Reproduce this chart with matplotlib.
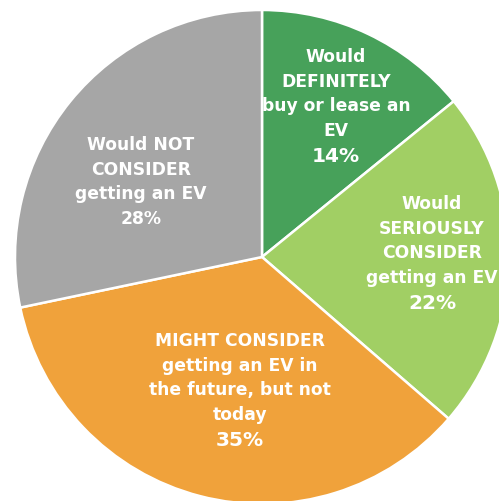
import matplotlib.pyplot as plt

# share of respondents per answer (as printed on the chart)
shares = [14, 22, 35, 28]
colors = ['#47A15A', '#A1CF64', '#F0A23B', '#A6A6A6']
label_lines = [
    ['Would', 'DEFINITELY', 'buy or lease an', 'EV'],
    ['Would', 'SERIOUSLY', 'CONSIDER', 'getting an EV'],
    ['MIGHT CONSIDER', 'getting an EV in', 'the future, but not', 'today'],
    ['Would NOT', 'CONSIDER', 'getting an EV'],
]
pct_labels = ['14%', '22%', '35%', '28%']

W, H = 499, 501
CX, CY, R = 262, 257, 247   # pie centre and radius in pixels


def px(x, y):
    # pixel (from top-left) -> data coords with unit radius
    return (x - CX) / R, (CY - y) / R


fig = plt.figure(figsize=(W / 100, H / 100), dpi=100)
ax = fig.add_axes([0, 0, 1, 1])
ax.pie(shares, colors=colors, startangle=90, counterclock=False,
       wedgeprops=dict(edgecolor='white', linewidth=1.8))
ax.set_xlim(-CX / R, (W - CX) / R)
ax.set_ylim((CY - H) / R, CY / R)
ax.set_aspect('equal')
ax.axis('off')

# block centre x and first baseline y for each label, in pixels
anchors = [(336, 62), (432, 209), (240, 346), (141, 150)]
pct_big = [True, True, True, False]
step = 24.6

for lines, pct, (bx, by), big in zip(label_lines, pct_labels, anchors, pct_big):
    for i, line in enumerate(lines):
        x, y = px(bx, by + i * step)
        ax.text(x, y, line, ha='center', va='baseline', color='white',
                fontsize=12.3, fontweight='bold', family='DejaVu Sans')
    n = len(lines)
    x, y = px(bx, by + n * step + (2 if big else 0))
    ax.text(x, y, pct, ha='center', va='baseline', color='white',
            fontsize=14.5 if big else 12.3, fontweight='bold',
            family='DejaVu Sans')

fig.savefig('out.png', dpi=100)
